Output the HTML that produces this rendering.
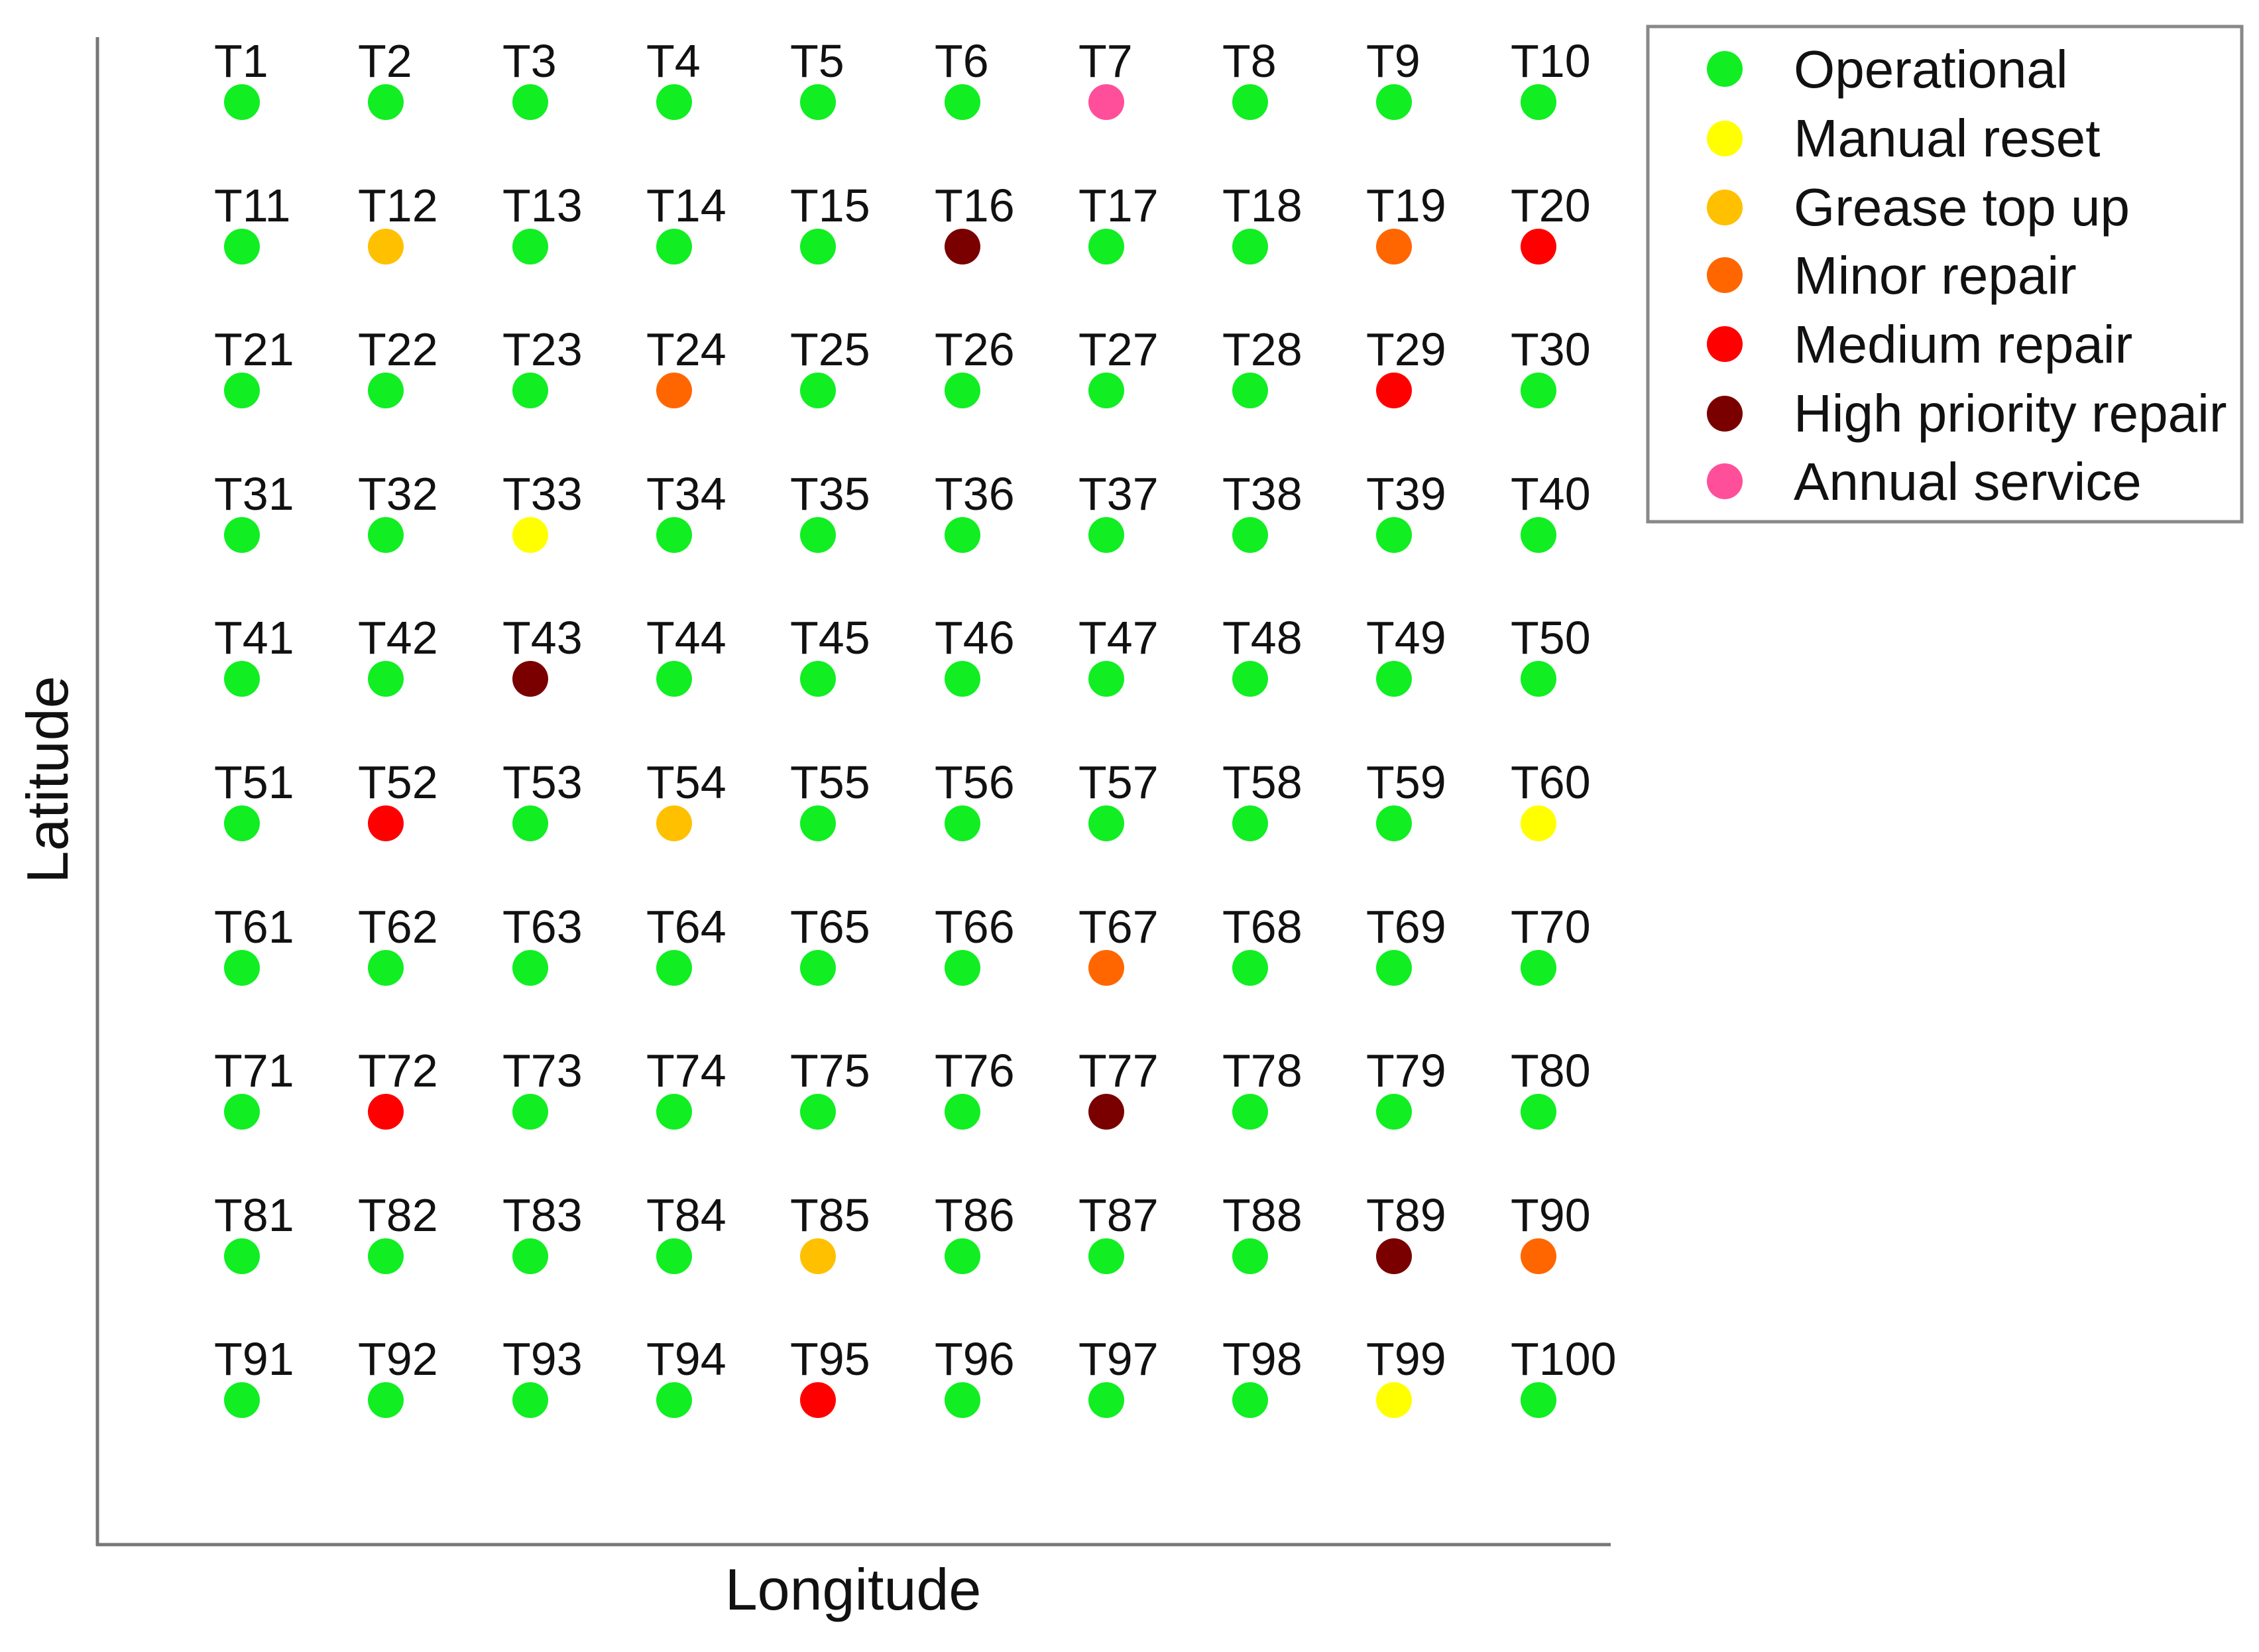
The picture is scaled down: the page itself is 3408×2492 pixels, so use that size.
<!DOCTYPE html>
<html><head><meta charset="utf-8"><style>html,body{margin:0;padding:0;background:#fff}svg{display:block}</style></head>
<body>
<svg xmlns="http://www.w3.org/2000/svg" width="3408" height="2492" viewBox="0 0 3408 2492" font-family="'Liberation Sans', Arial, sans-serif">
<rect width="3408" height="2492" fill="#fff"/>
<line x1="147" y1="56" x2="147" y2="2332" stroke="#777" stroke-width="5"/>
<line x1="145" y1="2330" x2="2430" y2="2330" stroke="#777" stroke-width="5"/>
<text x="1287" y="2428" font-size="88" text-anchor="middle" fill="#111">Longitude</text>
<text x="0" y="0" font-size="88" text-anchor="middle" fill="#111" transform="translate(102,1176) rotate(-90)">Latitude</text>
<g fill="#11ee22">
<circle cx="365" cy="154" r="27"/><circle cx="582" cy="154" r="27"/><circle cx="800" cy="154" r="27"/><circle cx="1017" cy="154" r="27"/><circle cx="1234" cy="154" r="27"/><circle cx="1452" cy="154" r="27"/><circle cx="1669" cy="154" r="27" fill="#ff4f9b"/><circle cx="1886" cy="154" r="27"/><circle cx="2103" cy="154" r="27"/><circle cx="2321" cy="154" r="27"/>
<circle cx="365" cy="372" r="27"/><circle cx="582" cy="372" r="27" fill="#ffc000"/><circle cx="800" cy="372" r="27"/><circle cx="1017" cy="372" r="27"/><circle cx="1234" cy="372" r="27"/><circle cx="1452" cy="372" r="27" fill="#7a0000"/><circle cx="1669" cy="372" r="27"/><circle cx="1886" cy="372" r="27"/><circle cx="2103" cy="372" r="27" fill="#ff6600"/><circle cx="2321" cy="372" r="27" fill="#ff0000"/>
<circle cx="365" cy="589" r="27"/><circle cx="582" cy="589" r="27"/><circle cx="800" cy="589" r="27"/><circle cx="1017" cy="589" r="27" fill="#ff6600"/><circle cx="1234" cy="589" r="27"/><circle cx="1452" cy="589" r="27"/><circle cx="1669" cy="589" r="27"/><circle cx="1886" cy="589" r="27"/><circle cx="2103" cy="589" r="27" fill="#ff0000"/><circle cx="2321" cy="589" r="27"/>
<circle cx="365" cy="807" r="27"/><circle cx="582" cy="807" r="27"/><circle cx="800" cy="807" r="27" fill="#ffff00"/><circle cx="1017" cy="807" r="27"/><circle cx="1234" cy="807" r="27"/><circle cx="1452" cy="807" r="27"/><circle cx="1669" cy="807" r="27"/><circle cx="1886" cy="807" r="27"/><circle cx="2103" cy="807" r="27"/><circle cx="2321" cy="807" r="27"/>
<circle cx="365" cy="1024" r="27"/><circle cx="582" cy="1024" r="27"/><circle cx="800" cy="1024" r="27" fill="#7a0000"/><circle cx="1017" cy="1024" r="27"/><circle cx="1234" cy="1024" r="27"/><circle cx="1452" cy="1024" r="27"/><circle cx="1669" cy="1024" r="27"/><circle cx="1886" cy="1024" r="27"/><circle cx="2103" cy="1024" r="27"/><circle cx="2321" cy="1024" r="27"/>
<circle cx="365" cy="1242" r="27"/><circle cx="582" cy="1242" r="27" fill="#ff0000"/><circle cx="800" cy="1242" r="27"/><circle cx="1017" cy="1242" r="27" fill="#ffc000"/><circle cx="1234" cy="1242" r="27"/><circle cx="1452" cy="1242" r="27"/><circle cx="1669" cy="1242" r="27"/><circle cx="1886" cy="1242" r="27"/><circle cx="2103" cy="1242" r="27"/><circle cx="2321" cy="1242" r="27" fill="#ffff00"/>
<circle cx="365" cy="1460" r="27"/><circle cx="582" cy="1460" r="27"/><circle cx="800" cy="1460" r="27"/><circle cx="1017" cy="1460" r="27"/><circle cx="1234" cy="1460" r="27"/><circle cx="1452" cy="1460" r="27"/><circle cx="1669" cy="1460" r="27" fill="#ff6600"/><circle cx="1886" cy="1460" r="27"/><circle cx="2103" cy="1460" r="27"/><circle cx="2321" cy="1460" r="27"/>
<circle cx="365" cy="1677" r="27"/><circle cx="582" cy="1677" r="27" fill="#ff0000"/><circle cx="800" cy="1677" r="27"/><circle cx="1017" cy="1677" r="27"/><circle cx="1234" cy="1677" r="27"/><circle cx="1452" cy="1677" r="27"/><circle cx="1669" cy="1677" r="27" fill="#7a0000"/><circle cx="1886" cy="1677" r="27"/><circle cx="2103" cy="1677" r="27"/><circle cx="2321" cy="1677" r="27"/>
<circle cx="365" cy="1895" r="27"/><circle cx="582" cy="1895" r="27"/><circle cx="800" cy="1895" r="27"/><circle cx="1017" cy="1895" r="27"/><circle cx="1234" cy="1895" r="27" fill="#ffc000"/><circle cx="1452" cy="1895" r="27"/><circle cx="1669" cy="1895" r="27"/><circle cx="1886" cy="1895" r="27"/><circle cx="2103" cy="1895" r="27" fill="#7a0000"/><circle cx="2321" cy="1895" r="27" fill="#ff6600"/>
<circle cx="365" cy="2112" r="27"/><circle cx="582" cy="2112" r="27"/><circle cx="800" cy="2112" r="27"/><circle cx="1017" cy="2112" r="27"/><circle cx="1234" cy="2112" r="27" fill="#ff0000"/><circle cx="1452" cy="2112" r="27"/><circle cx="1669" cy="2112" r="27"/><circle cx="1886" cy="2112" r="27"/><circle cx="2103" cy="2112" r="27" fill="#ffff00"/><circle cx="2321" cy="2112" r="27"/>
</g>
<g font-size="70" fill="#111">
<text x="323" y="116">T1</text><text x="540" y="116">T2</text><text x="758" y="116">T3</text><text x="975" y="116">T4</text><text x="1192" y="116">T5</text><text x="1410" y="116">T6</text><text x="1627" y="116">T7</text><text x="1844" y="116">T8</text><text x="2061" y="116">T9</text><text x="2279" y="116">T10</text>
<text x="323" y="334">T11</text><text x="540" y="334">T12</text><text x="758" y="334">T13</text><text x="975" y="334">T14</text><text x="1192" y="334">T15</text><text x="1410" y="334">T16</text><text x="1627" y="334">T17</text><text x="1844" y="334">T18</text><text x="2061" y="334">T19</text><text x="2279" y="334">T20</text>
<text x="323" y="551">T21</text><text x="540" y="551">T22</text><text x="758" y="551">T23</text><text x="975" y="551">T24</text><text x="1192" y="551">T25</text><text x="1410" y="551">T26</text><text x="1627" y="551">T27</text><text x="1844" y="551">T28</text><text x="2061" y="551">T29</text><text x="2279" y="551">T30</text>
<text x="323" y="769">T31</text><text x="540" y="769">T32</text><text x="758" y="769">T33</text><text x="975" y="769">T34</text><text x="1192" y="769">T35</text><text x="1410" y="769">T36</text><text x="1627" y="769">T37</text><text x="1844" y="769">T38</text><text x="2061" y="769">T39</text><text x="2279" y="769">T40</text>
<text x="323" y="986">T41</text><text x="540" y="986">T42</text><text x="758" y="986">T43</text><text x="975" y="986">T44</text><text x="1192" y="986">T45</text><text x="1410" y="986">T46</text><text x="1627" y="986">T47</text><text x="1844" y="986">T48</text><text x="2061" y="986">T49</text><text x="2279" y="986">T50</text>
<text x="323" y="1204">T51</text><text x="540" y="1204">T52</text><text x="758" y="1204">T53</text><text x="975" y="1204">T54</text><text x="1192" y="1204">T55</text><text x="1410" y="1204">T56</text><text x="1627" y="1204">T57</text><text x="1844" y="1204">T58</text><text x="2061" y="1204">T59</text><text x="2279" y="1204">T60</text>
<text x="323" y="1422">T61</text><text x="540" y="1422">T62</text><text x="758" y="1422">T63</text><text x="975" y="1422">T64</text><text x="1192" y="1422">T65</text><text x="1410" y="1422">T66</text><text x="1627" y="1422">T67</text><text x="1844" y="1422">T68</text><text x="2061" y="1422">T69</text><text x="2279" y="1422">T70</text>
<text x="323" y="1639">T71</text><text x="540" y="1639">T72</text><text x="758" y="1639">T73</text><text x="975" y="1639">T74</text><text x="1192" y="1639">T75</text><text x="1410" y="1639">T76</text><text x="1627" y="1639">T77</text><text x="1844" y="1639">T78</text><text x="2061" y="1639">T79</text><text x="2279" y="1639">T80</text>
<text x="323" y="1857">T81</text><text x="540" y="1857">T82</text><text x="758" y="1857">T83</text><text x="975" y="1857">T84</text><text x="1192" y="1857">T85</text><text x="1410" y="1857">T86</text><text x="1627" y="1857">T87</text><text x="1844" y="1857">T88</text><text x="2061" y="1857">T89</text><text x="2279" y="1857">T90</text>
<text x="323" y="2074">T91</text><text x="540" y="2074">T92</text><text x="758" y="2074">T93</text><text x="975" y="2074">T94</text><text x="1192" y="2074">T95</text><text x="1410" y="2074">T96</text><text x="1627" y="2074">T97</text><text x="1844" y="2074">T98</text><text x="2061" y="2074">T99</text><text x="2279" y="2074">T100</text>
</g>
<rect x="2486" y="40" width="896" height="747" fill="#fff" stroke="#888" stroke-width="5"/>
<g font-size="80" fill="#111">
<circle cx="2602" cy="104" r="27" fill="#11ee22"/><text x="2706" y="132">Operational</text>
<circle cx="2602" cy="209" r="27" fill="#ffff00"/><text x="2706" y="236">Manual reset</text>
<circle cx="2602" cy="313" r="27" fill="#ffc000"/><text x="2706" y="340">Grease top up</text>
<circle cx="2602" cy="415" r="27" fill="#ff6600"/><text x="2706" y="443">Minor repair</text>
<circle cx="2602" cy="519" r="27" fill="#ff0000"/><text x="2706" y="547">Medium repair</text>
<circle cx="2602" cy="624" r="27" fill="#7a0000"/><text x="2706" y="651">High priority repair</text>
<circle cx="2602" cy="726" r="27" fill="#ff4f9b"/><text x="2706" y="754">Annual service</text>
</g>
</svg>
</body></html>
